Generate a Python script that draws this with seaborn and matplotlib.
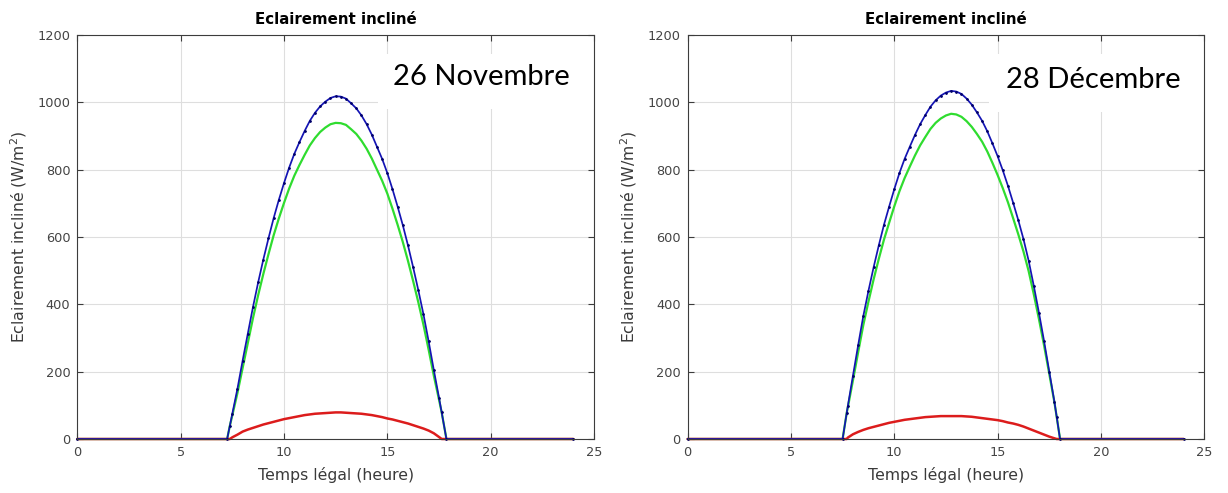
import matplotlib
matplotlib.use("Agg")
import matplotlib.pyplot as plt
from matplotlib.patches import Rectangle
import pandas as pd
import seaborn as sns

# --- 26 novembre : heure légale et éclairement (W/m²) ---
nov_hours = [0, 7.25, 7.38, 7.5, 7.75, 8.0, 8.25, 8.5, 8.75, 9.0, 9.25, 9.5, 9.75,
             10.0, 10.25, 10.5, 10.75, 11.0, 11.25, 11.5, 11.75, 12.0, 12.25, 12.5,
             12.75, 13.0, 13.25, 13.5, 13.75, 14.0, 14.25, 14.5, 14.75, 15.0, 15.25,
             15.5, 15.75, 16.0, 16.25, 16.5, 16.75, 17.0, 17.25, 17.5, 17.63, 17.86, 24]
nov_total = [0, 0, 39, 75, 150, 233, 313, 392, 465, 533, 596, 656, 710,
             760, 806, 847, 882, 915, 945, 969, 988, 1002, 1013, 1018,
             1017, 1011, 997, 982, 961, 935, 904, 868, 832, 790, 742,
             690, 635, 575, 510, 442, 370, 290, 205, 123, 79, 0, 0]
nov_direct = [0, 0, 39, 70, 137, 211, 285, 359, 427, 490, 549, 605, 655,
              701, 744, 782, 814, 844, 872, 894, 912, 925, 935, 939,
              938, 933, 920, 906, 886, 862, 833, 800, 767, 729, 684,
              636, 585, 529, 469, 406, 339, 265, 188, 117, 79, 0, 0]
nov_diffuse = [0, 0, 0, 5, 13, 22, 28, 33, 38, 43, 47, 51, 55,
               59, 62, 65, 68, 71, 73, 75, 76, 77, 78, 79,
               79, 78, 77, 76, 75, 73, 71, 68, 65, 61, 58,
               54, 50, 46, 41, 36, 31, 25, 17, 6, 0, 0, 0]

# --- 28 décembre ---
dec_hours = [0, 7.5, 7.7, 7.75, 8.0, 8.25, 8.5, 8.75, 9.0, 9.25, 9.5, 9.75, 10.0,
             10.25, 10.5, 10.75, 11.0, 11.25, 11.5, 11.75, 12.0, 12.25, 12.5, 12.75,
             13.0, 13.25, 13.5, 13.75, 14.0, 14.25, 14.5, 14.75, 15.0, 15.25, 15.5,
             15.75, 16.0, 16.25, 16.5, 16.75, 17.0, 17.25, 17.5, 17.75, 17.86, 18.02, 24]
dec_total = [0, 0, 78, 97, 188, 278, 365, 440, 510, 575, 636, 690, 742,
             790, 832, 868, 903, 935, 962, 987, 1006, 1020, 1029, 1034,
             1032, 1025, 1011, 993, 970, 945, 914, 878, 840, 798, 752,
             702, 650, 594, 530, 455, 375, 290, 200, 110, 65, 0, 0]
dec_direct = [0, 0, 78, 93, 174, 257, 338, 408, 474, 535, 592, 642, 691,
              736, 775, 809, 842, 872, 897, 921, 939, 952, 961, 966,
              964, 957, 944, 927, 906, 883, 854, 820, 784, 745, 703,
              656, 608, 557, 499, 430, 356, 277, 193, 108, 65, 0, 0]
dec_diffuse = [0, 0, 0, 4, 14, 21, 27, 32, 36, 40, 44, 48, 51,
               54, 57, 59, 61, 63, 65, 66, 67, 68, 68, 68,
               68, 68, 67, 66, 64, 62, 60, 58, 56, 53, 49,
               46, 42, 37, 31, 25, 19, 13, 7, 2, 0, 0, 0]

date_labels = ["26 Novembre", "28 Décembre"]
panel_title = "Eclairement incliné"
x_label = "Temps légal (heure)"
y_label = "Eclairement incliné (W/m$^2$)"
x_ticks = [0, 5, 10, 15, 20, 25]
y_ticks = [0, 200, 400, 600, 800, 1000, 1200]

panels = [
    pd.DataFrame({"t": nov_hours, "total": nov_total,
                  "direct": nov_direct, "diffuse": nov_diffuse}),
    pd.DataFrame({"t": dec_hours, "total": dec_total,
                  "direct": dec_direct, "diffuse": dec_diffuse}),
]

sns.set_theme(style="whitegrid")
plt.rcParams["font.family"] = ["DejaVu Sans"]
plt.rcParams["mathtext.default"] = "regular"

W, H = 1228, 493
fig = plt.figure(figsize=(W / 100, H / 100), dpi=100)
fig.patch.set_facecolor("white")

ax_left_px = [77.3, 687.6]
ax_w_px, ax_top_px, ax_bot_px = 516.7, 35, 439

# white label boxes (x0, y0, top) and label anchor (x, baseline y), data units
boxes = [(14.55, 981, 1144), (14.56, 972, 1144)]
anchors = [(15.27, 1051), (15.39, 1043)]

for i, df in enumerate(panels):
    ax = fig.add_axes([ax_left_px[i] / W, 1 - ax_bot_px / H,
                       ax_w_px / W, (ax_bot_px - ax_top_px) / H])
    ax.set_facecolor("white")

    sns.lineplot(data=df, x="t", y="direct", ax=ax, color="#2fdc2f",
                 linewidth=1.6, estimator=None, sort=False, clip_on=False,
                 zorder=2)
    sns.lineplot(data=df, x="t", y="diffuse", ax=ax, color="#dc1c1c",
                 linewidth=1.8, estimator=None, sort=False, clip_on=False,
                 zorder=2.1)
    sns.lineplot(data=df, x="t", y="total", ax=ax, color="#1414b4",
                 linewidth=1.25, marker=".", markersize=2.4,
                 markerfacecolor="#00006a", markeredgecolor="#00006a",
                 estimator=None, sort=False, clip_on=False, zorder=2.2)

    ax.set_xlim(0, 25)
    ax.set_ylim(0, 1200)
    ax.set_xticks(x_ticks)
    ax.set_yticks(y_ticks)
    ax.set_axisbelow(True)
    ax.grid(True, color="#dedede", linewidth=0.8)
    for sp in ax.spines.values():
        sp.set_visible(True)
        sp.set_color("#3c3c3c")
        sp.set_linewidth(0.8)
    ax.tick_params(direction="in", length=4, width=0.8, top=True, right=True,
                   bottom=True, left=True, color="#3c3c3c",
                   labelcolor="#444444", labelsize=9.3, pad=5)

    x0, y0, ytop = boxes[i]
    ax.add_patch(Rectangle((x0, y0), 25 - x0, ytop - y0, facecolor="white",
                           edgecolor="none", zorder=1))
    tx, ty = anchors[i]
    ax.text(tx, ty, date_labels[i], family="Lato", fontsize=21,
            color="black", ha="left", va="baseline", zorder=3)

    ax.set_title(panel_title, fontsize=10.8, fontweight="bold",
                 color="black", pad=8)
    ax.set_xlabel(x_label, fontsize=11.3, color="#3a3a3a", labelpad=6)
    ax.set_ylabel(y_label, fontsize=11.3, color="#3a3a3a", labelpad=6)

fig.savefig("out.png", dpi=100, facecolor="white")
